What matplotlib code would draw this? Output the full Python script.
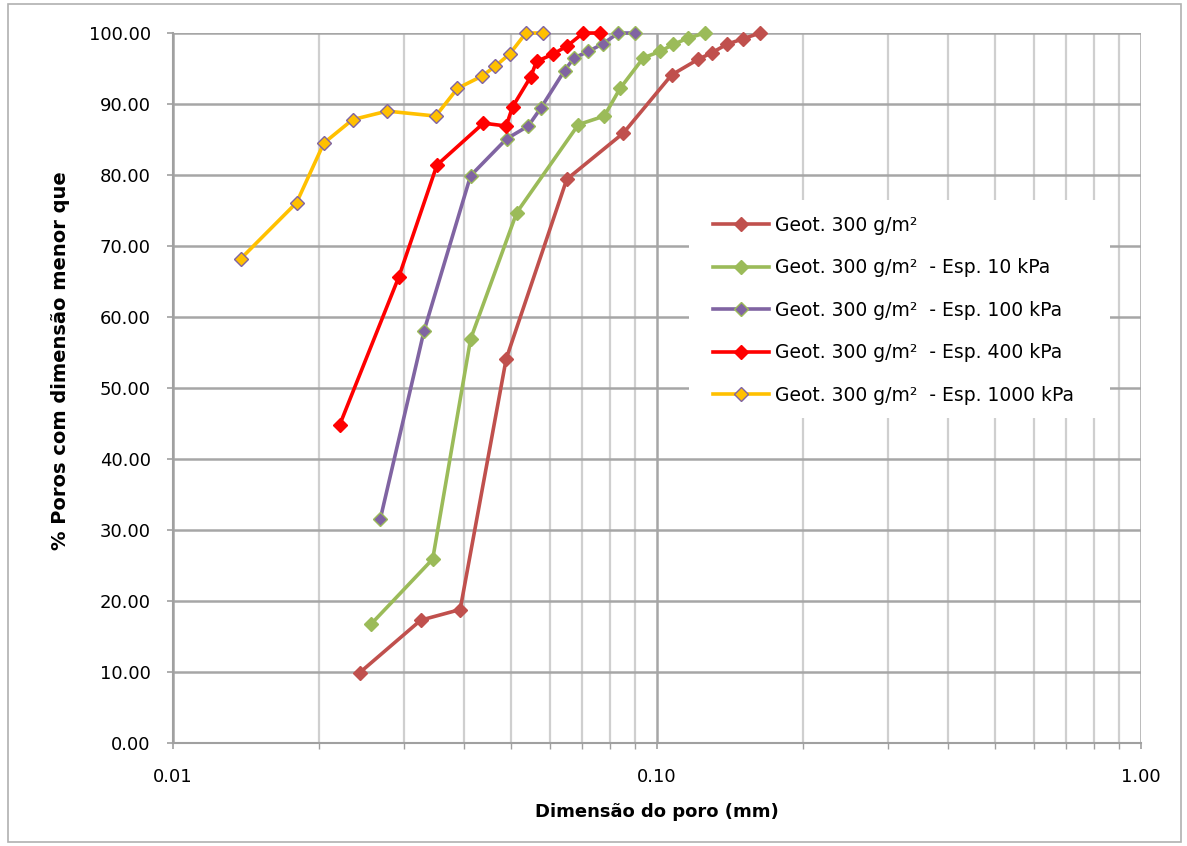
import matplotlib
matplotlib.use("Agg")
import matplotlib.pyplot as plt
from matplotlib.ticker import FixedLocator, FixedFormatter, LogLocator, NullFormatter
from matplotlib.patches import Rectangle

# ---- data ----
x_geo = [0.0243, 0.0325, 0.0392, 0.0488, 0.0651, 0.0852, 0.1072, 0.1217, 0.1297, 0.1393, 0.1508, 0.1633]
y_geo = [9.9, 17.3, 18.8, 54.1, 79.4, 85.9, 94.1, 96.3, 97.2, 98.4, 99.2, 100.0]

x_10 = [0.0257, 0.0344, 0.0412, 0.0513, 0.0688, 0.0778, 0.0839, 0.0937, 0.1014, 0.1081, 0.1161, 0.1257]
y_10 = [16.8, 25.9, 56.9, 74.7, 87.1, 88.3, 92.2, 96.5, 97.4, 98.4, 99.3, 100.0]

x_100 = [0.0268, 0.0330, 0.0412, 0.0489, 0.0542, 0.0575, 0.0644, 0.0674, 0.0721, 0.0774, 0.0832, 0.0900]
y_100 = [31.5, 58.0, 79.9, 85.1, 86.9, 89.4, 94.7, 96.5, 97.4, 98.5, 100.0, 100.0]

x_400 = [0.0221, 0.0293, 0.0351, 0.0438, 0.0488, 0.0503, 0.0548, 0.0564, 0.0609, 0.0653, 0.0704, 0.0762]
y_400 = [44.8, 65.7, 81.4, 87.3, 86.9, 89.6, 93.8, 96.0, 97.0, 98.2, 100.0, 100.0]

x_1000 = [0.0138, 0.0180, 0.0205, 0.0235, 0.0277, 0.0349, 0.0387, 0.0434, 0.0463, 0.0497, 0.0536, 0.0582]
y_1000 = [68.2, 76.1, 84.5, 87.8, 89.0, 88.3, 92.2, 93.9, 95.3, 97.1, 100.0, 100.0]

labels = ["Geot. 300 g/m²",
          "Geot. 300 g/m²  - Esp. 10 kPa",
          "Geot. 300 g/m²  - Esp. 100 kPa",
          "Geot. 300 g/m²  - Esp. 400 kPa",
          "Geot. 300 g/m²  - Esp. 1000 kPa"]

y_ticks = [0, 10, 20, 30, 40, 50, 60, 70, 80, 90, 100]
x_ticks = [0.01, 0.1, 1.0]
x_tick_labels = ["0.01", "0.10", "1.00"]

# ---- figure ----
W, H = 1187, 846
fig = plt.figure(figsize=(W / 100, H / 100), dpi=100)
ax = fig.add_axes([173 / W, 1 - 743 / H, (1141 - 173) / W, (743 - 33) / H])

series = [
    (x_geo, y_geo, "#C0504D", "#C0504D", "#C0504D"),
    (x_10, y_10, "#9BBB59", "#9BBB59", "#9BBB59"),
    (x_100, y_100, "#8064A2", "#8064A2", "#9BBB59"),
    (x_400, y_400, "#FF0000", "#FF0000", "#FF0000"),
    (x_1000, y_1000, "#FFC000", "#FFC000", "#8064A2"),
]
for (xs, ys, lc, fc, ec), lab in zip(series, labels):
    ax.plot(xs, ys, color=lc, lw=2.6, marker="D", markersize=7.5,
            markerfacecolor=fc, markeredgecolor=ec, markeredgewidth=1.0,
            label=lab, zorder=3, clip_on=False)

ax.set_xscale("log")
ax.set_xlim(0.01, 1.0)
ax.set_ylim(0, 100)

ax.yaxis.set_major_locator(FixedLocator(y_ticks))
ax.set_yticklabels([f"{v:.2f}" for v in y_ticks])
ax.xaxis.set_major_locator(FixedLocator(x_ticks))
ax.xaxis.set_major_formatter(FixedFormatter(x_tick_labels))
ax.xaxis.set_minor_locator(LogLocator(base=10, subs=range(2, 10)))
ax.xaxis.set_minor_formatter(NullFormatter())

ax.grid(True, which="major", axis="both", color="#a6a6a6", lw=1.8, zorder=0)
ax.grid(True, which="minor", axis="x", color="#cfcfcf", lw=1.6, zorder=0)
ax.set_axisbelow(True)

for s in ["top", "right"]:
    ax.spines[s].set_visible(False)
for s in ["left", "bottom"]:
    ax.spines[s].set_color("#a0a0a0")
    ax.spines[s].set_linewidth(1.5)

ax.tick_params(axis="both", which="major", length=4, width=1.2, color="#a0a0a0",
               labelsize=13)
ax.tick_params(axis="y", which="major", pad=12)
ax.tick_params(axis="x", which="minor", length=4, width=1.0, color="#a0a0a0")
ax.tick_params(axis="x", which="major", pad=14)

ax.set_xlabel("Dimensão do poro (mm)", fontsize=13, fontweight="bold", labelpad=12)
ax.set_ylabel("% Poros com dimensão menor que", fontsize=14, fontweight="bold")
ax.yaxis.set_label_coords(-(173 - 70) / 968, (743 - 361) / 710)

# white legend background box (figure pixels 689..1110 x, 200..418 y)
to_fig = lambda px, py: (px / W, 1 - py / H)
x0, y0 = to_fig(689, 418)
x1, y1 = to_fig(1110, 200)
bg = Rectangle((x0, y0), x1 - x0, y1 - y0, transform=fig.transFigure,
               facecolor="white", edgecolor="none", zorder=2)
ax.add_patch(bg)

lx, ly = to_fig(713, 216)
leg = ax.legend(loc="upper left", bbox_to_anchor=(lx, ly), bbox_transform=fig.transFigure,
                frameon=False, fontsize=13.5, handlelength=3.0, handletextpad=0.3,
                labelspacing=1.25, borderpad=0, borderaxespad=0)

fig.patches.append(Rectangle((8 / W, 4 / H), (1181 - 8) / W, (842 - 4) / H,
                             transform=fig.transFigure, fill=False,
                             edgecolor="#b0b0b0", lw=1.2))

fig.savefig("out.png", dpi=100)
